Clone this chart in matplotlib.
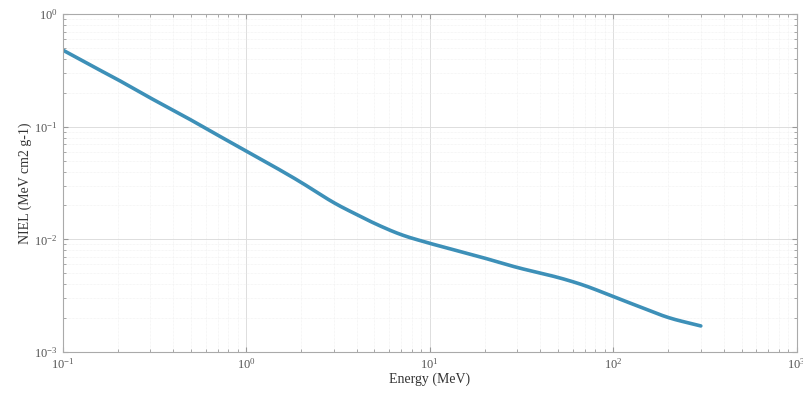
import numpy as np
import matplotlib.pyplot as plt

plt.rcParams['font.family'] = ['Liberation Serif', 'DejaVu Serif']
plt.rcParams['mathtext.fontset'] = 'stix'

# NIEL curve
energy = [0.1, 0.15, 0.2, 0.3, 0.5, 0.7, 1.0, 1.5, 2.0, 3.0, 5.0, 7.0, 10.0,
          20.0, 30.0, 50.0, 70.0, 100.0, 150.0, 200.0, 300.0]
niel = [0.48, 0.335, 0.262, 0.18, 0.115, 0.084, 0.061, 0.042, 0.032, 0.021,
        0.0138, 0.0109, 0.0092, 0.0068, 0.0056, 0.0046, 0.0039, 0.0031,
        0.0024, 0.0020, 0.0017]

fig = plt.figure(figsize=(8.04, 4.04), dpi=100)
ax = fig.add_axes([0.078, 0.129, 0.913, 0.836])

# smooth in log space for drawing
lx = np.log10(energy)
ly = np.log10(niel)
xs = np.linspace(lx[0], lx[-1], 400)
ys = np.interp(xs, lx, ly)
k = np.ones(15) / 15
ys_pad = np.concatenate([np.full(7, ys[0]) - (ys[1] - ys[0]) * np.arange(7, 0, -1),
                         ys,
                         np.full(7, ys[-1]) + (ys[-1] - ys[-2]) * np.arange(1, 8)])
ys = np.convolve(ys_pad, k, mode='valid')
ax.plot(10 ** xs, 10 ** ys, color='#3d90b8', lw=2.6, solid_capstyle='round')

ax.set_xscale('log')
ax.set_yscale('log')
ax.set_xlim(1e-1, 1e3)
ax.set_ylim(1e-3, 1e0)

ax.grid(True, which='major', color='#dddddd', lw=0.7)
ax.grid(True, which='minor', color='#eeeeee', lw=0.5, ls=(0, (1, 1)))
ax.tick_params(which='both', direction='in', top=True, right=True,
               colors='#999999', labelcolor='#555555', labelsize=9)
for s in ax.spines.values():
    s.set_color('#aaaaaa')

ax.set_xlabel('Energy (MeV)', fontsize=10, color='#333333', labelpad=1)
ax.set_ylabel('NIEL (MeV cm2 g-1)', fontsize=10, color='#333333', labelpad=2)

fig.savefig('out.png', dpi=100)
